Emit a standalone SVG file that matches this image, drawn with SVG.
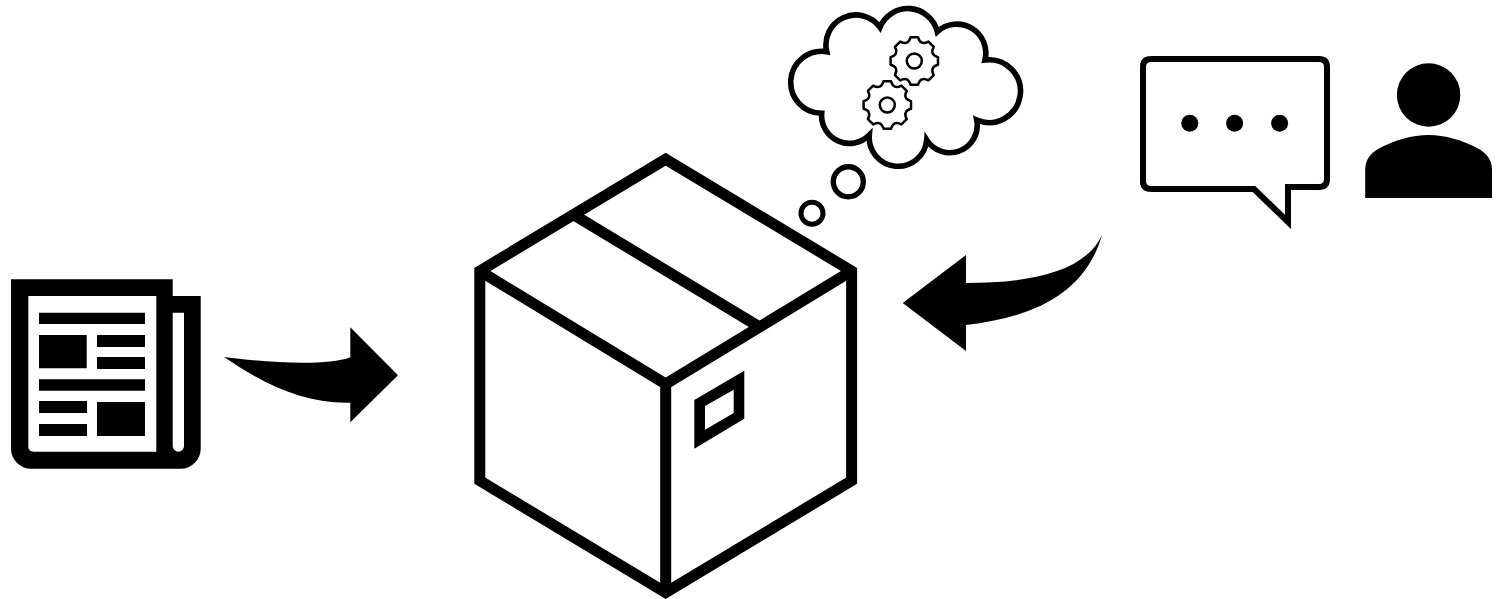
<svg xmlns="http://www.w3.org/2000/svg" xmlns:xlink="http://www.w3.org/1999/xlink" width="1512" height="599" viewBox="0 0 1512 599">
<style>
.ln{fill:none;stroke:#000;stroke-linejoin:miter;stroke-miterlimit:10}
.wl{fill:#fff;stroke:#000;stroke-linejoin:miter;stroke-miterlimit:10}
.k{fill:#000;stroke:none}
.w{fill:#fff;stroke:none}
.gear{fill:#fff;stroke:#000;stroke-width:2.5;stroke-linejoin:round}
</style>
<defs>
<g id="gearShape">
<path class="gear" d="M23.7,-3.75L23.7,3.75Q15.2,6.3 19.4,14.1L14.1,19.4Q6.3,15.2 3.75,23.7L-3.75,23.7Q-6.3,15.2 -14.1,19.4L-19.4,14.1Q-15.2,6.3 -23.7,3.75L-23.7,-3.75Q-15.2,-6.3 -19.4,-14.1L-14.1,-19.4Q-6.3,-15.2 -3.75,-23.7L3.75,-23.7Q6.3,-15.2 14.1,-19.4L19.4,-14.1Q15.2,-6.3 23.7,-3.75Z"/>
<circle class="gear" r="7.5"/>
</g>
</defs>
<rect width="1512" height="599" fill="#fff"/>
<g id="newspaper">
<path class="k" d="M11,279.3H172.7V296H200.7V448.7A20,20 0 0 1 180.7,468.7H31A20,20 0 0 1 11,448.7Z"/>
<path class="w" d="M28.3,296H156.3V451.7H33.3A5,5 0 0 1 28.3,446.7Z"/>
<path class="w" d="M172.7,312.7H184V446A5.65,5.65 0 0 1 172.7,446Z"/>
<path class="k" d="M39,312.7H145V324H39ZM39,335H86.7V368.3H39ZM97,335H145V347H97ZM97,357H145V369H97ZM39,379.3H145V390.7H39ZM39,401H87V413H39ZM39,424H87V436H39ZM97,402H145V436H97Z"/>
</g>
<g id="box">
<path class="ln" stroke-width="11" d="M665.7,159.2L851.6,271V480.7L665.7,592.5L479.8,480.7V271Z"/>
<path class="ln" stroke-width="11" d="M479.8,271L665.7,384L851.6,271M665.7,384V592.5M574,215L760,327.2"/>
<path class="k" fill-rule="evenodd" d="M694.3,400L744.3,370.7V418.7L694.3,448.7ZM705,406V429.7L733.7,413V389.7Z"/>
</g>
<g id="thought">
<path class="wl" stroke-width="5.6" d="M880,27.3A30.2,30.2 0 0 1 937.3,31.7A29,29 0 0 1 985,60A31.4,31.4 0 1 1 976.7,120A27.4,27.4 0 0 1 926.7,140A28.8,28.8 0 0 1 869.3,135A27.8,27.8 0 0 1 821.7,113.3A31,31 0 1 1 826.7,51.7A29.9,29.9 0 0 1 880,27.3Z"/>
<use xlink:href="#gearShape" href="#gearShape" transform="translate(914.3,61)"/>
<use xlink:href="#gearShape" href="#gearShape" transform="translate(887.3,105)"/>
<circle class="wl" cx="848.3" cy="181.7" r="15" stroke-width="5.4"/>
<circle class="wl" cx="812" cy="213.3" r="11" stroke-width="5"/>
</g>
<g id="speech">
<path class="wl" stroke-width="6" d="M1151,59H1319Q1327,59 1327,67V179Q1327,187 1319,187H1288V222L1254,189H1151Q1143,189 1143,181V67Q1143,59 1151,59Z"/>
<circle class="k" cx="1189.8" cy="123.3" r="8.5"/>
<circle class="k" cx="1234.6" cy="123.3" r="8.5"/>
<circle class="k" cx="1279.6" cy="123.3" r="8.5"/>
</g>
<g id="person">
<circle class="k" cx="1428.6" cy="95" r="31.7"/>
<path class="k" d="M1365.2,198V170C1365.2,158 1372,153 1378,149C1395,140 1412,135 1428.6,135C1445,135 1462,140 1479,149C1485,153 1492,158 1492,170V198Z"/>
</g>
<g id="connectors">
<path class="k" d="M224,357C262,362 325,367 350.3,357.3V327.3L398,375.3L350.3,422.3V402.7C305,404 265,385 224,357Z"/>
<path class="k" d="M1102,235C1085,272 1030,283 966,283V255L902.7,303L966,351V325C1030,318 1085,295 1102,235Z"/>
</g>
</svg>
